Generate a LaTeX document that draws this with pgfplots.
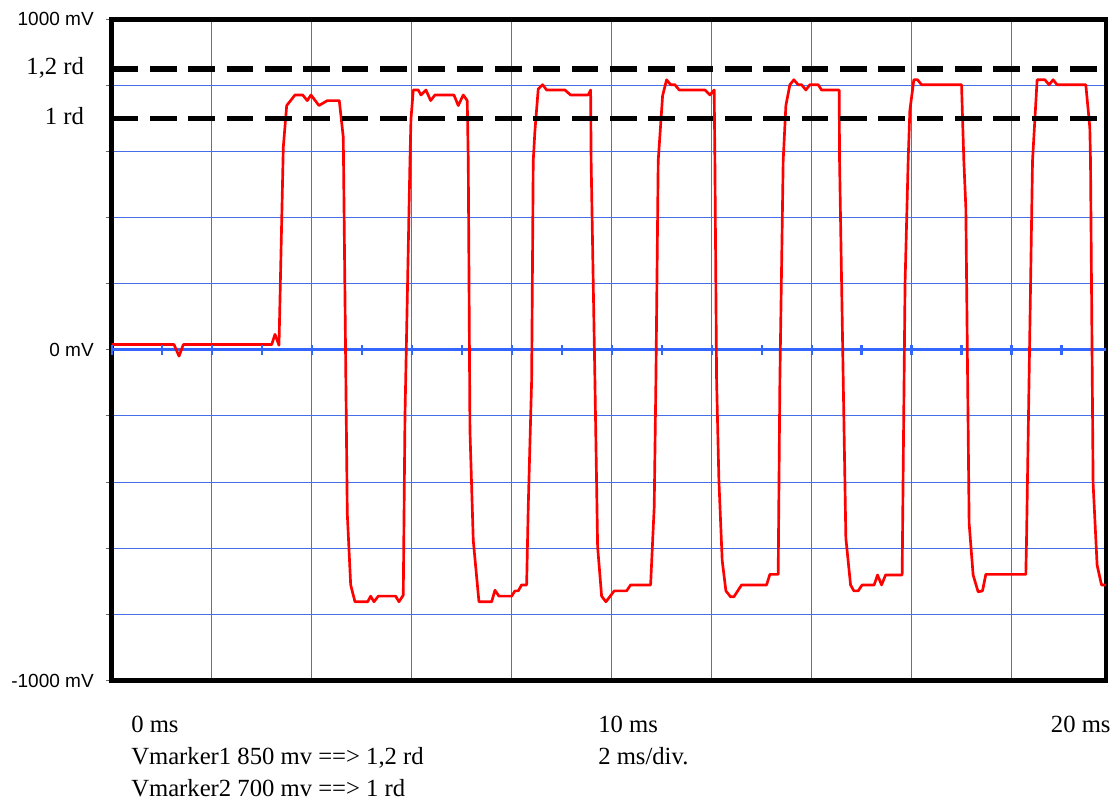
\documentclass[border=0pt]{standalone}
\usepackage{fontspec}
\setmainfont{Liberation Serif}
\newfontfamily\arial{Liberation Sans}
\usepackage{pgfplots}
\usepackage{pgfplotstable}
\pgfplotsset{compat=1.18}
\definecolor{gridblue}{RGB}{70,110,230}
\definecolor{zeroblue}{RGB}{51,102,255}
\definecolor{sigred}{RGB}{255,0,0}

\pgfplotstableread{
t v
0 16
1.246 16
1.346 -19
1.432 16
3.200 16
3.266 47
3.346 14
3.432 613
3.500 739
3.666 771
3.820 771
3.912 754
3.986 771
4.146 739
4.312 754
4.552 754
4.632 643
4.712 -495
4.780 -711
4.866 -762
5.120 -762
5.180 -745
5.246 -762
5.332 -745
5.680 -745
5.746 -762
5.832 -742
5.866 -203
5.966 572
5.986 698
6.032 786
6.132 786
6.186 771
6.286 786
6.380 754
6.466 771
6.846 771
6.932 739
7.032 771
7.112 754
7.132 572
7.166 -243
7.232 -576
7.346 -762
7.600 -762
7.666 -727
7.746 -745
8.000 -745
8.066 -729
8.132 -729
8.200 -711
8.300 -711
8.332 -475
8.400 -92
8.432 572
8.466 663
8.532 789
8.620 802
8.700 786
9.066 786
9.180 771
9.532 771
9.580 786
9.590 572
9.666 -92
9.720 -596
9.800 -745
9.886 -762
10.052 -729
10.300 -729
10.380 -711
10.780 -711
10.852 -475
10.886 -92
10.932 572
11.020 769
11.100 817
11.180 802
11.266 802
11.352 786
11.866 786
11.966 771
12.052 786
12.066 572
12.100 -92
12.146 -394
12.212 -637
12.286 -729
12.380 -747
12.446 -747
12.600 -711
13.100 -711
13.166 -679
13.332 -679
13.366 -92
13.432 572
13.486 739
13.566 802
13.646 817
13.732 802
13.800 802
13.886 786
13.966 802
14.132 802
14.200 786
14.552 786
14.560 572
14.686 -570
14.780 -711
14.846 -729
14.932 -729
15.012 -711
15.252 -711
15.320 -681
15.400 -711
15.480 -681
15.812 -681
15.832 -373
15.870 200
15.932 572
15.966 724
16.046 817
16.120 817
16.200 802
17.000 802
17.046 572
17.086 431
17.152 -525
17.232 -681
17.332 -732
17.420 -729
17.486 -679
18.286 -679
18.300 -576
18.420 572
18.512 817
18.666 817
18.752 802
18.832 817
18.912 802
19.486 802
19.566 673
19.580 572
19.632 -404
19.712 -651
19.800 -711
19.890 -711
}\signal

\pgfplotstableread{
t v
0 0
1 0
2 0
3 0
4 0
5 0
6 0
7 0
8 0
9 0
10 0
11 0
12 0
13 0
14 0
15 0
16 0
17 0
18 0
19 0
}\zeroticks

\begin{document}
\begin{tikzpicture}
\path[use as bounding box] (0,0) rectangle (836.25pt,605.25pt);
\begin{axis}[
  at={(83.8pt,94.9pt)}, anchor=south west,
  scale only axis, width=745.7pt, height=495.9pt,
  xmin=0, xmax=19.89, ymin=-1000, ymax=1000,
  xtick={2,4,...,18}, xticklabels={,,,,,,,,,},
  ytick={-1000,-800,...,1000},
  yticklabels={-1000 mV,,,,,0 mV,,,,,1000 mV},
  grid=major, major grid style={gridblue, line width=0.75pt},
  axis line style={black, line width=3.5pt, line join=miter},
  tick align=outside, major tick length=4.3pt,
  ytick style={black!60, line width=0.75pt},
  xtick style={draw=none},
  tick pos=left,
  yticklabel style={font=\arial\fontsize{14.25}{16}\selectfont, inner sep=0pt, xshift=-9pt},
]
\addplot[zeroblue, line width=2.2pt, no marks] coordinates {(0,0) (19.89,0)};
\addplot[zeroblue, only marks, mark=|, mark size=3.6pt, mark options={line width=1.6pt}] table[x=t,y=v] {\zeroticks};
\addplot[sigred, line width=2pt, line join=round] table[x=t,y=v] {\signal};
\addplot[black, line width=4.2pt, dash pattern=on 20pt off 8.75pt] coordinates {(0,850) (19.89,850)};
\addplot[black, line width=4.2pt, dash pattern=on 20pt off 8.75pt] coordinates {(0,700) (19.89,700)};
\end{axis}
\begin{scope}[every node/.style={inner sep=0pt, font=\fontsize{18.5}{20}\selectfont}]
\node[anchor=base east] at (63.2pt,549.4pt) {1,2 rd};
\node[anchor=base east] at (63.2pt,511.5pt) {1 rd};
\node[anchor=base west] at (98.25pt,55.5pt) {0 ms};
\node[anchor=base west] at (448.5pt,55.5pt) {10 ms};
\node[anchor=base west] at (788pt,55.5pt) {20 ms};
\node[anchor=base west] at (98.25pt,31.5pt) {Vmarker1 850 mv ==> 1,2 rd};
\node[anchor=base west] at (448.5pt,31.5pt) {2 ms/div.};
\node[anchor=base west] at (98.25pt,7.5pt) {Vmarker2 700 mv ==> 1 rd};
\end{scope}
\end{tikzpicture}
\end{document}
